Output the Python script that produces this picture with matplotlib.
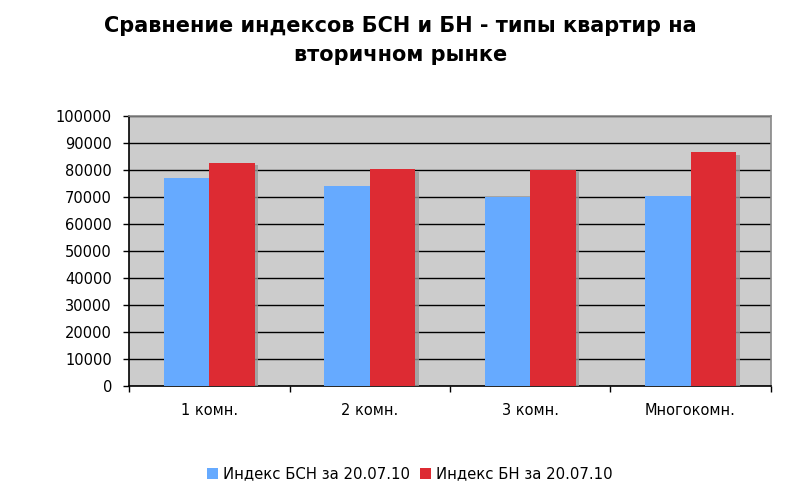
import matplotlib
matplotlib.use("Agg")
import matplotlib.pyplot as plt
import matplotlib.patheffects as pe
from matplotlib.patches import Patch
import numpy as np

categories = ["1 комн.", "2 комн.", "3 комн.", "Многокомн."]
bsn_values = [77000, 74000, 70000, 70200]
bn_values = [82500, 80200, 79900, 86500]
series_names = ["Индекс БСН за 20.07.10", "Индекс БН за 20.07.10"]
yticks = list(range(0, 100001, 10000))
colors = ["#66aaff", "#dd2b33"]

plt.rcParams['font.family'] = ['DejaVu Sans']

fig = plt.figure(figsize=(8.01, 4.99), dpi=100)
ax = fig.add_axes([129.3/801, 1-386/499, (770.7-129.3)/801, (386-116)/499])
ax.set_facecolor("#cccccc")

x = np.arange(len(categories))
w = 0.284
shadow = [pe.SimplePatchShadow(offset=(2.5, -1.5), shadow_rgbFace="#999999", alpha=0.8), pe.Normal()]
b1 = ax.bar(x - w/2, bsn_values, w, color=colors[0], zorder=3)
b2 = ax.bar(x + w/2, bn_values, w, color=colors[1], zorder=3)
for b in list(b1) + list(b2):
    b.set_path_effects(shadow)

ax.set_xlim(-0.5, len(categories) - 0.5)
ax.set_ylim(0, 100000)
ax.set_yticks(yticks)
ax.set_yticklabels([str(v) for v in yticks], fontsize=10.5)
ax.yaxis.grid(True, color="black", linewidth=1.0, zorder=1)
ax.set_axisbelow(True)

ax.set_xticks(x)
ax.set_xticklabels(categories, fontsize=10.5)
ax.tick_params(axis='x', length=0, pad=12)
ax.set_xticks(np.arange(-0.5, len(categories)), minor=True)
ax.tick_params(axis='x', which='minor', length=4.5, color="black", width=1)
ax.tick_params(axis='y', length=4.5, color="black", width=1, pad=8)

ax.spines['left'].set_color("black")
ax.spines['bottom'].set_color("black")
ax.spines['top'].set_color("#888888")
ax.spines['right'].set_color("#888888")
for s in ax.spines.values():
    s.set_linewidth(1.2)

fig.text(0.5, 1 - 16/499, "Сравнение индексов БСН и БН - типы квартир на\nвторичном рынке",
         ha="center", va="top", fontsize=15, fontweight="bold", linespacing=1.55)

handles = [Patch(facecolor=c, edgecolor="none") for c in colors]
fig.legend(handles=handles, labels=series_names, loc="center", bbox_to_anchor=(410/801, 1 - 474/499),
           ncol=2, frameon=False, fontsize=10.7, handlelength=0.74, handleheight=0.74,
           handletextpad=0.35, columnspacing=0.67)

fig.savefig("out.png", dpi=100, facecolor="white")
